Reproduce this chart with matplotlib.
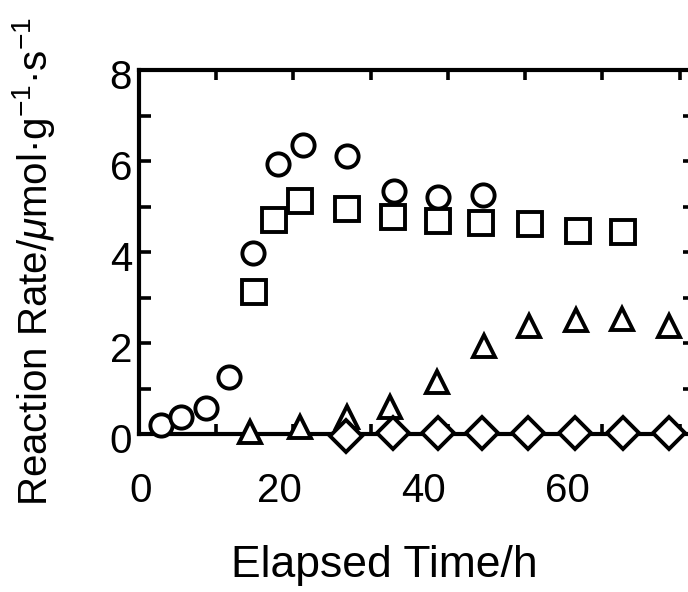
import matplotlib
matplotlib.use("Agg")
import matplotlib.pyplot as plt
from matplotlib.transforms import ScaledTranslation

plt.rcParams['font.family'] = ['Liberation Sans', 'DejaVu Sans']
plt.rcParams['mathtext.fontset'] = 'custom'
plt.rcParams['mathtext.rm'] = 'Liberation Sans'
plt.rcParams['mathtext.it'] = 'Liberation Sans:italic'

# ---- data ----
circle_t = [2.9, 5.4, 8.7, 11.7, 14.7, 18.0, 21.3, 27.0, 33.0, 38.7, 44.5]
circle_r = [0.20, 0.37, 0.57, 1.26, 3.98, 5.93, 6.36, 6.10, 5.33, 5.20, 5.26]

square_t = [14.9, 17.5, 20.8, 26.9, 32.9, 38.7, 44.3, 50.6, 56.8, 62.7]
square_r = [3.11, 4.70, 5.13, 4.95, 4.77, 4.68, 4.64, 4.62, 4.46, 4.44]

triangle_t = [14.4, 20.8, 26.9, 32.5, 38.6, 44.7, 50.5, 56.6, 62.6, 68.6]
triangle_r = [0.04, 0.15, 0.37, 0.60, 1.15, 1.93, 2.37, 2.50, 2.53, 2.37]

diamond_t = [26.8, 32.9, 38.7, 44.4, 50.4, 56.5, 62.7, 68.6]
diamond_r = [-0.05, 0.02, 0.02, 0.02, 0.02, 0.02, 0.02, 0.02]

x_major = [0, 20, 40, 60]
x_minor = [10, 30, 50, 70]
y_major = [0, 2, 4, 6, 8]
y_minor = [1, 3, 5, 7]

fig = plt.figure(figsize=(6.88, 5.92), dpi=100)
W, H = 688, 592
left, right, top, bottom = 139, 695, 70, 434
ax = fig.add_axes([left / W, 1 - bottom / H, (right - left) / W, (bottom - top) / H])

mk = dict(linestyle='none', markerfacecolor='white', markeredgecolor='black',
          markeredgewidth=2.8, clip_on=False, zorder=5)
ax.plot(circle_t, circle_r, marker='o', markersize=16, **mk)
ax.plot(square_t, square_r, marker='s', markersize=17, **mk)
ax.plot(triangle_t, triangle_r, marker='^', markersize=16, **mk)
ax.plot(diamond_t, diamond_r, marker='D', markersize=16, **mk)

ax.set_xlim(0, 72)
ax.set_ylim(0, 8)

for s in ax.spines.values():
    s.set_linewidth(3)
    s.set_zorder(3)

ax.set_xticks(x_major)
ax.set_xticks(x_minor, minor=True)
ax.set_yticks(y_major)
ax.set_yticks(y_minor, minor=True)

ax.tick_params(axis='both', which='both', direction='in', width=2.6,
               top=True, right=True, length=8.5, labelsize=29)
ax.tick_params(axis='x', which='both', length=7)
ax.tick_params(axis='x', which='major', pad=27)
ax.tick_params(axis='y', which='major', pad=5)

# shift x tick labels to match the original typesetting
offsets = [2, -14, -24, -35]
for lab, dx in zip(ax.get_xticklabels(), offsets):
    lab.set_transform(lab.get_transform() + ScaledTranslation(dx / 100, 0, fig.dpi_scale_trans))
for lab in ax.get_yticklabels():
    lab.set_transform(lab.get_transform() + ScaledTranslation(0, -4 / 100, fig.dpi_scale_trans))

ax.set_xlabel('Elapsed Time/h', fontsize=32)
ax.xaxis.set_label_coords(0.442, -0.305)
ax.set_ylabel(r'Reaction Rate/$\mathit{\mu}$mol·g$^{-1}$·s$^{-1}$', fontsize=29)
ax.yaxis.set_label_coords(-0.147, 0.473)

fig.savefig('out.png', dpi=100)
